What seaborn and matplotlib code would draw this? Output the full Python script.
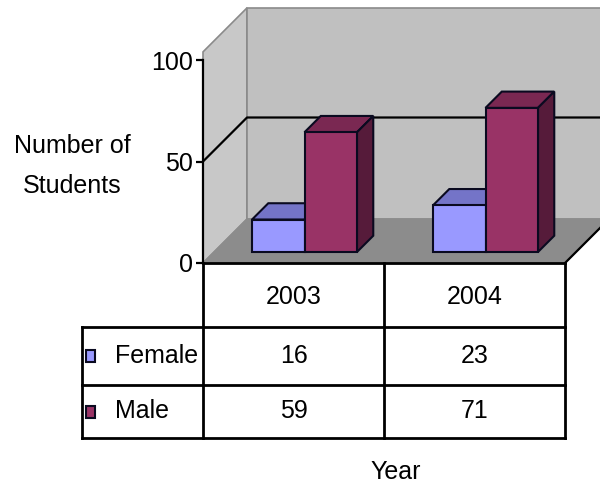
import numpy as np
import pandas as pd
import matplotlib
matplotlib.use('Agg')
import matplotlib.pyplot as plt
import seaborn as sns
from matplotlib.patches import Polygon, Rectangle

# data
years = ['2003', '2004']
genders = ['Female', 'Male']
female_counts = [16, 23]
male_counts = [59, 71]
y_ticks = [0, 50, 100]

FEMALE_C = '#9999FF'
MALE_C = '#993366'
FEMALE_TOP = '#7474C8'
MALE_TOP = '#7A2852'
MALE_SIDE = '#561B3A'
EDGE = '#0A0A20'

sns.set_style('white')
plt.rcParams['font.family'] = ['Liberation Sans', 'DejaVu Sans']
plt.rcParams['text.color'] = 'black'
FS = 18

W, H = 600, 488
fig = plt.figure(figsize=(W / 100, H / 100), dpi=100)

# front plane of the plot area, in pixels
X0, X1, Y0, Y100 = 203, 565, 263, 60
ax = fig.add_axes([X0 / W, 1 - Y0 / H, (X1 - X0) / W, (Y0 - Y100) / H])
ax.patch.set_visible(False)

df = pd.DataFrame({
    'Year': years * 2,
    'Gender': [genders[0]] * len(years) + [genders[1]] * len(years),
    'Students': female_counts + male_counts,
})

sns.barplot(data=df, x='Year', y='Students', hue='Gender', order=years,
            hue_order=genders, palette=[FEMALE_C, MALE_C], saturation=1,
            width=0.58, edgecolor=EDGE, linewidth=1.5, legend=False, ax=ax)

ax.set_xlim(-0.5, 1.5)
ax.set_ylim(0, 100)
ax.set_xlabel('')
ax.set_ylabel('')

# depth of the 3d box in data units
px_x = (X1 - X0) / 2
px_y = (Y0 - Y100) / 100
DEPTH = 44
ddx = DEPTH / px_x
ddy = DEPTH / px_y
top = 104

# walls and floor
side_wall = [(-0.5, 0), (-0.5 + ddx, ddy), (-0.5 + ddx, top + ddy), (-0.5, top)]
back_wall = [(-0.5 + ddx, ddy), (1.5 + ddx, ddy), (1.5 + ddx, top + ddy), (-0.5 + ddx, top + ddy)]
floor = [(-0.5, 0), (1.5, 0), (1.5 + ddx, ddy), (-0.5 + ddx, ddy)]
ax.add_patch(Polygon(side_wall, closed=True, fc='#C8C8C8', ec='#8A8A8A', lw=1.2, clip_on=False, zorder=0.5))
ax.add_patch(Polygon(back_wall, closed=True, fc='#C0C0C0', ec='#8A8A8A', lw=1.2, clip_on=False, zorder=0.5))
ax.add_patch(Polygon(floor, closed=True, fc='#8C8C8C', ec='#8C8C8C', lw=1, clip_on=False, zorder=0.6))
ax.plot([-0.5, -0.5 + ddx, 1.5 + ddx], [50, 50 + ddy, 50 + ddy], color='black', lw=1.6,
        clip_on=False, zorder=0.7)
ax.plot([1.5, 1.5 + ddx], [0, ddy], color='black', lw=1.6, clip_on=False, zorder=0.7)

# turn the flat bars into 3d boxes
f0, f1 = 0.25, 0.62
bdx = (f1 - f0) * ddx
bdy = (f1 - f0) * ddy
for p in list(ax.patches):
    if not isinstance(p, Rectangle) or p.get_height() <= 0:
        continue
    x, y, w, h = p.get_x(), p.get_y(), p.get_width(), p.get_height()
    x += f0 * ddx
    y += f0 * ddy
    p.set_x(x)
    p.set_y(y)
    is_male = np.allclose(p.get_facecolor()[:3], matplotlib.colors.to_rgb(MALE_C), atol=0.02)
    z = 4 if is_male else 3
    p.set_zorder(z + 0.2)
    top_c = MALE_TOP if is_male else FEMALE_TOP
    side_c = MALE_SIDE if is_male else FEMALE_TOP
    top_face = [(x, y + h), (x + w, y + h), (x + w + bdx, y + h + bdy), (x + bdx, y + h + bdy)]
    side_face = [(x + w, y), (x + w + bdx, y + bdy), (x + w + bdx, y + h + bdy), (x + w, y + h)]
    ax.add_patch(Polygon(top_face, closed=True, fc=top_c, ec=EDGE, lw=1.5, zorder=z))
    ax.add_patch(Polygon(side_face, closed=True, fc=side_c, ec=EDGE, lw=1.5, zorder=z))

# axes styling
for s in ['top', 'right']:
    ax.spines[s].set_visible(False)
ax.spines['left'].set_color('black')
ax.spines['left'].set_linewidth(1.6)
ax.spines['bottom'].set_color('black')
ax.spines['bottom'].set_linewidth(2)
ax.set_yticks(y_ticks)
ax.set_xticks([])
ax.tick_params(axis='y', direction='out', length=5, width=1.6, labelsize=FS, pad=2,
               left=True, colors='black')

fig.text(72 / W, 1 - 166 / H, 'Number of\nStudents', ha='center', va='center',
         fontsize=FS, linespacing=1.85)

# data table under the plot (pixel coordinates)
tab = fig.add_axes([0, 0, 1, 1])
tab.set_xlim(0, W)
tab.set_ylim(H, 0)
tab.axis('off')
tab.patch.set_visible(False)

col_edges = [X0, (X0 + X1) / 2, X1]
label_left = 82
row_edges = [Y0, 327, 385, 438]
lw = 2

for yy in row_edges[1:]:
    tab.plot([label_left, X1], [yy, yy], color='black', lw=lw, solid_capstyle='projecting')
for xx in col_edges:
    tab.plot([xx, xx], [Y0, row_edges[-1]], color='black', lw=lw, solid_capstyle='projecting')
tab.plot([label_left, label_left], [row_edges[1], row_edges[-1]], color='black', lw=lw,
         solid_capstyle='projecting')

for j, yr in enumerate(years):
    cx = (col_edges[j] + col_edges[j + 1]) / 2
    tab.text(cx, (row_edges[0] + row_edges[1]) / 2 + 2, yr, ha='center', va='center', fontsize=FS)

rows = [(genders[0], female_counts, FEMALE_C), (genders[1], male_counts, MALE_C)]
for i, (name, vals, c) in enumerate(rows):
    cy = (row_edges[i + 1] + row_edges[i + 2]) / 2
    tab.add_patch(Rectangle((86, cy - 6), 9, 12, fc=c, ec=EDGE, lw=1.5))
    tab.text(115, cy, name, ha='left', va='center', fontsize=FS)
    for j, v in enumerate(vals):
        cx = (col_edges[j] + col_edges[j + 1]) / 2
        tab.text(cx, cy, str(v), ha='center', va='center', fontsize=FS)

fig.text(396 / W, 1 - 472 / H, 'Year', ha='center', va='center', fontsize=FS)

fig.savefig('out.png', dpi=100)
